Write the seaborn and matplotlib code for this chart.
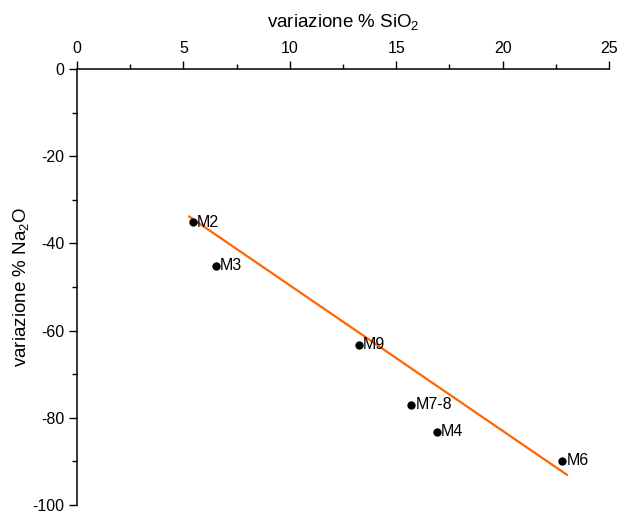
import matplotlib
matplotlib.use("Agg")
import matplotlib.pyplot as plt
from matplotlib.ticker import MultipleLocator
import seaborn as sns
import pandas as pd

# Data
samples = ["M2", "M3", "M9", "M7-8", "M4", "M6"]
sio2_var = [5.45, 6.53, 13.25, 15.7, 16.9, 22.8]
na2o_var = [-35.2, -45.1, -63.2, -77.0, -83.2, -89.9]
# Trend line endpoints
fit_x = [5.26, 23.03]
fit_y = [-33.8, -93.1]

x_ticks = [0, 5, 10, 15, 20, 25]
y_ticks = [0, -20, -40, -60, -80, -100]

sns.set_theme(style="ticks")
plt.rcParams["font.family"] = ["Liberation Sans", "DejaVu Sans"]
plt.rcParams["mathtext.fontset"] = "custom"
plt.rcParams["mathtext.rm"] = "Liberation Sans"
plt.rcParams["mathtext.it"] = "Liberation Sans"
plt.rcParams["axes.unicode_minus"] = False

df = pd.DataFrame({"sample": samples, "x": sio2_var, "y": na2o_var})
fit = pd.DataFrame({"x": fit_x, "y": fit_y})

fig = plt.figure(figsize=(6.24, 5.13), dpi=100)
ax = fig.add_axes([77 / 624, 1 - 505 / 513, (609 - 77) / 624, (505 - 69) / 513])

sns.lineplot(data=fit, x="x", y="y", ax=ax, color="#ff6600", lw=1.6, zorder=2)
sns.scatterplot(data=df, x="x", y="y", ax=ax, color="black", s=36,
                edgecolor="black", linewidth=0, zorder=3)
for s, x, y in zip(samples, sio2_var, na2o_var):
    ax.annotate(s, (x, y), xytext=(3, 0), textcoords="offset points",
                va="center", ha="left", fontsize=11.5, color="black", zorder=4)

ax.set_xlim(0, 25)
ax.set_ylim(-100, 0)
ax.xaxis.tick_top()
ax.xaxis.set_label_position("top")
ax.set_xticks(x_ticks)
ax.set_yticks(y_ticks)
ax.xaxis.set_minor_locator(MultipleLocator(2.5))
ax.yaxis.set_minor_locator(MultipleLocator(10))
ax.tick_params(axis="both", which="major", direction="out", length=5.8, width=1,
               labelsize=11.5, color="black", labelcolor="black", pad=3.5)
ax.tick_params(axis="both", which="minor", direction="out", length=3.5, width=1,
               color="black")
ax.tick_params(axis="x", which="both", top=True, bottom=False)

ax.spines["bottom"].set_visible(False)
ax.spines["right"].set_visible(False)
for sp in ["top", "left"]:
    ax.spines[sp].set_color("black")
    ax.spines[sp].set_linewidth(1.1)

ax.set_xlabel(r"variazione % SiO$_2$", fontsize=13.5, labelpad=10, color="black")
ax.set_ylabel(r"variazione % Na$_2$O", fontsize=13.5, labelpad=0.5, color="black")
ax.set_facecolor("white")
ax.grid(False)

fig.savefig("out.png", dpi=100, facecolor="white")
